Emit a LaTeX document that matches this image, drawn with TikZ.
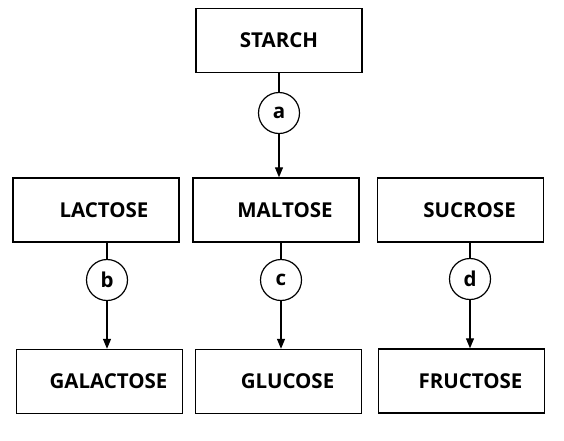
\documentclass[tikz,border=0pt]{standalone}
\usepackage{fontspec}
\newfontfamily\sugarfont{Open Sans}
\usepackage{tikz}
\usetikzlibrary{arrows.meta}

\tikzset{
  sugar/.style={draw, line width=1.4pt, minimum width=166pt, minimum height=64pt,
    inner sep=0pt, font=\sugarfont\bfseries\fontsize{20.5}{24}\selectfont},
  pad/.style={execute at begin node={\hspace*{#1}}},
  enzyme/.style={draw, circle, line width=1.2pt, minimum size=41pt, inner sep=0pt,
    font=\sugarfont\bfseries\fontsize{20.5}{24}\selectfont},
  link/.style={line width=1.2pt},
  flow/.style={line width=1.2pt, -{Triangle[length=10pt,width=8pt]}}
}

\begin{document}
\begin{tikzpicture}[x=1pt,y=-1pt]
             \useasboundingbox (0,0) rectangle (564,440);

             % top row
             \node[sugar] (starch) at (279, 40.5) {STARCH};
             \node[enzyme] (a) at (279, 113) {a};

             % middle row
             \node[sugar, pad=16pt] (lactose) at (96, 210) {LACTOSE};
             \node[sugar, pad=18pt] (maltose) at (276, 210) {MALTOSE};
             \node[sugar, pad=18pt] (sucrose) at (460.5, 210) {SUCROSE};

             \node[enzyme] (b) at (107, 280) {b};
             \node[enzyme] (c) at (281, 280) {c};
             \node[enzyme] (d) at (470, 279) {d};

             % bottom row
             \node[sugar, pad=18pt] (galactose) at (99.5, 381.5) {GALACTOSE};
             \node[sugar, pad=18pt] (glucose) at (278.5, 381.5) {GLUCOSE};
             \node[sugar, pad=18pt] (fructose) at (461.5, 381) {FRUCTOSE};

             \draw[link] (a |- starch.south) -- (a.north);
             \draw[flow] (a.south) -- (a |- maltose.north);

             \draw[link] (b |- lactose.south) -- (b.north);
             \draw[flow] (b.south) -- (b |- galactose.north);

             \draw[link] (c |- maltose.south) -- (c.north);
             \draw[flow] (c.south) -- (c |- glucose.north);

             \draw[link] (d |- sucrose.south) -- (d.north);
             \draw[flow] (d.south) -- (d |- fructose.north);
\end{tikzpicture}
\end{document}
